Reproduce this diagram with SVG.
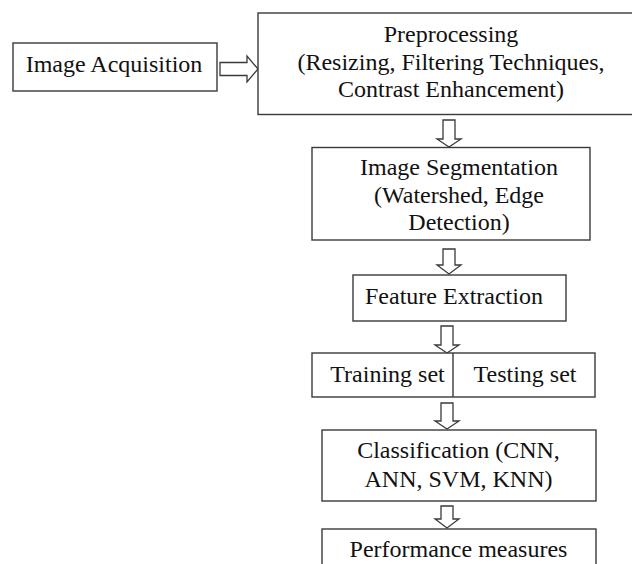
<svg xmlns="http://www.w3.org/2000/svg" width="632" height="564" viewBox="0 0 632 564">
<style>
.box{fill:#fff;stroke:#3a3a3a;stroke-width:1.4}
.arr{fill:#fff;stroke:#3a3a3a;stroke-width:1.3;stroke-linejoin:miter}
text{font-family:"Liberation Serif","Times New Roman",serif;font-size:24px;fill:#111}
.c{text-anchor:middle}
</style>
<rect width="632" height="564" fill="#fff"/>
<g id="connectors">
<path class="arr" d="M220,62.5 H247 V56 L258,69 L247,82 V75.5 H220 Z"/>
<path class="arr" d="M443,120 V139 H437 L449,147 L461,139 H455 V120 Z"/>
<path class="arr" d="M443,249 V265 H437 L449,274 L461,265 H455 V249 Z"/>
<path class="arr" d="M441,326 V345 H435 L447,353 L459,345 H453 V326 Z"/>
<path class="arr" d="M441,403 V421 H435 L447,429 L459,421 H453 V403 Z"/>
<path class="arr" d="M441,506 V519 H435 L447,528 L459,519 H453 V506 Z"/>
</g>
<g id="acquisition">
<rect class="box" x="13" y="43" width="204" height="48"/>
<text class="c" x="114" y="72">Image Acquisition</text>
</g>
<g id="preprocessing">
<rect class="box" x="258" y="13" width="390" height="101.5"/>
<text class="c" x="451" y="42">Preprocessing</text>
<text class="c" x="451" y="70">(Resizing, Filtering Techniques,</text>
<text class="c" x="451" y="97">Contrast Enhancement)</text>
</g>
<g id="segmentation">
<rect class="box" x="312" y="147.5" width="278" height="92.5"/>
<text class="c" x="459" y="175">Image Segmentation</text>
<text class="c" x="459" y="203">(Watershed, Edge</text>
<text class="c" x="459" y="230">Detection)</text>
</g>
<g id="feature">
<rect class="box" x="353" y="275" width="213" height="46"/>
<text x="365" y="304">Feature Extraction</text>
</g>
<g id="sets">
<rect class="box" x="312" y="353" width="283" height="44"/>
<line x1="453" y1="353" x2="453" y2="397" stroke="#3a3a3a" stroke-width="1.4"/>
<text class="c" x="387.5" y="382">Training set</text>
<text class="c" x="525" y="382">Testing set</text>
</g>
<g id="classification">
<rect class="box" x="322" y="430" width="274" height="71"/>
<text class="c" x="458.5" y="458">Classification (CNN,</text>
<text class="c" x="458.5" y="487">ANN, SVM, KNN)</text>
</g>
<g id="performance">
<rect class="box" x="322" y="529" width="274" height="60"/>
<text class="c" x="458.5" y="557">Performance measures</text>
</g>
</svg>
